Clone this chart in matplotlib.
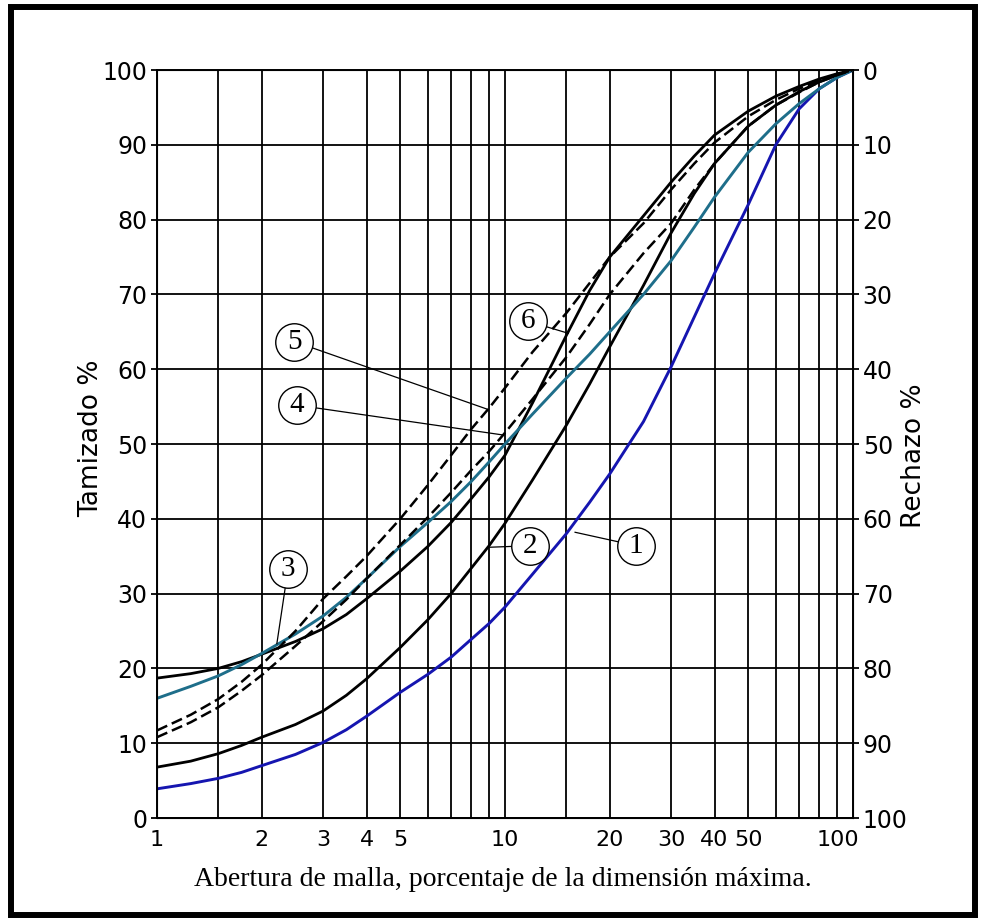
import numpy as np
import matplotlib.pyplot as plt
from matplotlib.patches import Rectangle
from matplotlib.ticker import NullFormatter

# abertura de malla (% de la dimension maxima)
aberturas = [1, 1.25, 1.5, 1.75, 2, 2.5, 3, 3.5, 4, 5, 6, 7, 8, 9, 10, 12, 15,
             17.5, 20, 25, 30, 35, 40, 50, 60, 70, 80, 90, 100]

curva_1 = [3.9, 4.6, 5.3, 6.1, 7.0, 8.5, 10.1, 11.8, 13.6, 16.8, 19.2, 21.5, 23.9, 26.0,
           28.2, 32.6, 38.0, 42.2, 46.0, 53.0, 60.3, 67.0, 72.8, 82.0, 90.0, 94.8, 97.5, 99.0, 100]
curva_2 = [6.8, 7.6, 8.6, 9.7, 10.8, 12.5, 14.3, 16.4, 18.6, 22.8, 26.5, 30.0, 33.4, 36.4,
           39.4, 45.2, 52.5, 58.0, 63.0, 71.2, 78.2, 83.5, 87.5, 92.5, 95.3, 97.1, 98.4, 99.3, 100]
curva_3 = [18.7, 19.3, 20.0, 20.9, 21.9, 23.6, 25.3, 27.2, 29.3, 33.0, 36.3, 39.5, 42.7, 45.6,
           48.5, 55.5, 64.5, 70.5, 75.0, 80.5, 85.0, 88.5, 91.3, 94.5, 96.5, 97.8, 98.8, 99.5, 100]
curva_4 = [16.0, 17.6, 19.0, 20.5, 22.0, 24.6, 27.0, 29.5, 32.0, 36.3, 39.5, 42.3, 45.0, 47.6,
           50.0, 54.0, 58.8, 62.0, 65.0, 70.0, 74.5, 79.0, 83.0, 89.0, 92.8, 95.5, 97.5, 99.0, 100]
curva_5 = [11.7, 13.8, 15.9, 18.2, 20.5, 25.0, 29.3, 32.3, 35.0, 40.0, 44.5, 48.5, 52.0, 54.8,
           57.5, 62.3, 67.5, 71.5, 75.0, 79.5, 84.0, 87.5, 90.3, 93.8, 96.0, 97.5, 98.6, 99.4, 100]
curva_6 = [10.8, 12.8, 14.8, 17.0, 19.1, 23.0, 26.3, 29.2, 32.0, 36.5, 40.2, 43.5, 46.5, 49.0,
           51.5, 56.0, 61.6, 66.0, 70.0, 75.5, 79.5, 84.0, 87.5, 92.5, 95.3, 97.0, 98.4, 99.3, 100]

x_major = [1, 2, 3, 4, 5, 10, 20, 30, 40, 50]
x_minor = [1.5, 6, 7, 8, 9, 15, 60, 70, 80, 90]
y_ticks = list(range(0, 101, 10))

# etiquetas numeradas: (numero, centro del circulo, punto senalado)
etiquetas = [
    ("1", (23.8, 36.4), (15.9, 38.2)),
    ("2", (11.8, 36.4), (9.06, 36.2)),
    ("3", (2.38, 33.3), (2.21, 23.3)),
    ("4", (2.52, 55.2), (9.89, 51.2)),
    ("5", (2.48, 63.7), (8.96, 54.6)),
    ("6", (11.67, 66.4), (15.2, 64.8)),
]

AZUL = "#1515b0"
TEAL = "#1e6e8a"


def main():
    fig = plt.figure(figsize=(9.81, 9.24), dpi=100)
    ax = fig.add_axes([157 / 981, 1 - 818 / 924, (853 - 157) / 981, (818 - 70) / 924])

    ax.set_xscale("log")
    ax.set_xlim(1, 100)
    ax.set_ylim(0, 100)

    ax.set_xticks(x_major)
    ax.set_xticklabels([str(v) for v in x_major])
    ax.set_xticks(x_minor, minor=True)
    ax.xaxis.set_minor_formatter(NullFormatter())
    ax.set_yticks(y_ticks)

    ax.grid(True, which="both", axis="x", color="black", lw=1.3)
    ax.grid(True, which="major", axis="y", color="black", lw=1.3)
    ax.set_axisbelow(True)
    for s in ax.spines.values():
        s.set_linewidth(1.4)

    ax.tick_params(axis="x", which="both", length=0, pad=9, labelsize=16)
    ax.tick_params(axis="y", length=4, width=1.3, pad=3, labelsize=17)

    # 100 del eje x desplazado a la izquierda como en el original
    ax.annotate("100", xy=(100, 0), xytext=(-11, -9), textcoords="offset points",
                ha="center", va="top", fontsize=16, annotation_clip=False)

    ax2 = ax.twinx()
    ax2.set_ylim(100, 0)
    ax2.set_yticks(y_ticks)
    ax2.tick_params(axis="y", length=4, width=1.3, pad=3, labelsize=17)

    # curvas granulometricas
    ax.plot(aberturas, curva_1, color=AZUL, lw=2.1, zorder=4)
    ax.plot(aberturas, curva_2, color="black", lw=2.0, zorder=4)
    ax.plot(aberturas, curva_3, color="black", lw=2.0, zorder=4)
    ax.plot(aberturas, curva_4, color=TEAL, lw=2.1, zorder=4)
    ax.plot(aberturas, curva_5, color="black", lw=1.8, ls=(0, (4.5, 2)), zorder=4)
    ax.plot(aberturas, curva_6, color="black", lw=1.8, ls=(0, (4.5, 2)), zorder=4)

    for num, (cx, cy), (tx, ty) in etiquetas:
        ax.plot([cx, tx], [cy, ty], color="black", lw=0.9, zorder=5)
        ax.plot(cx, cy, "o", ms=27, mfc="white", mec="black", mew=1.0, zorder=6)
        ax.text(cx, cy, num, ha="center", va="center", fontsize=21,
                family="Liberation Serif", zorder=7)

    fig.text(91 / 981, 1 - 438 / 924, "Tamizado %", rotation=90, ha="center",
             va="center", fontsize=19)
    fig.text(914 / 981, 1 - 456 / 924, "Rechazo %", rotation=90, ha="center",
             va="center", fontsize=19)
    fig.text(503 / 981, 1 - 880 / 924, "Abertura de malla, porcentaje de la dimensión máxima.",
             ha="center", va="center", fontsize=20, family="Liberation Serif")

    # marco negro alrededor de la figura
    fig.patches.append(Rectangle((11 / 981, 1 - 915 / 924), (975 - 11) / 981, (915 - 7) / 924,
                                 transform=fig.transFigure, fill=False, lw=4.3, ec="black"))

    fig.savefig("out.png", dpi=100)


if __name__ == "__main__":
    main()
